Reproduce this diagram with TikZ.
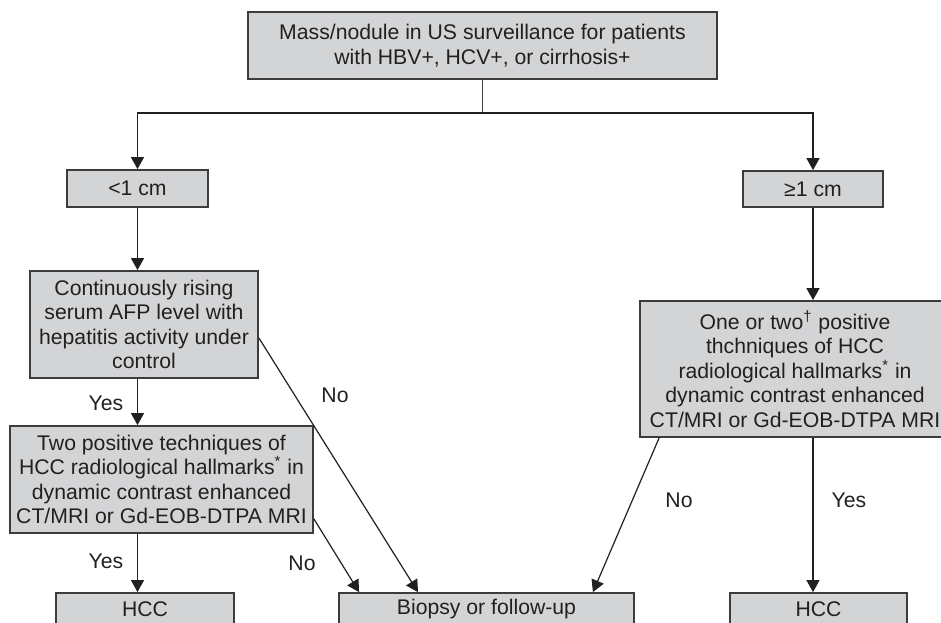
\documentclass[tikz,border=0pt]{standalone}
\usepackage{fontspec}
\setmainfont{Liberation Sans}
\usetikzlibrary{arrows.meta}

\definecolor{boxgray}{RGB}{211,212,214}
\definecolor{edgegray}{RGB}{60,60,60}
\definecolor{inkgray}{RGB}{35,31,32}

\tikzset{
    box/.style={draw=edgegray, line width=0.9pt, fill=boxgray, align=center,
        inner sep=0pt, text=inkgray, font=\fontsize{10.6}{12.2}\selectfont},
    arr/.style={-{Triangle[width=6.5pt,length=6pt]}, line width=0.6pt, draw=inkgray},
    link/.style={line width=0.7pt, draw=edgegray},
    lab/.style={text=inkgray, font=\fontsize{10.6}{12.2}\selectfont}
}

\begin{document}
\begin{tikzpicture}[x=0.5pt, y=-0.5pt]
    \useasboundingbox (0,0) rectangle (941,622);

    % Draw the boxes
    \node[box, minimum width=234.5pt, minimum height=33.5pt] (mass) at (482.5,45.5)
        {Mass/nodule in US surveillance for patients\\with HBV+, HCV+, or cirrhosis+};
    \node[box, minimum width=70.5pt, minimum height=18.5pt] (small) at (137.5,188.5) {<1 cm};
    \node[box, minimum width=70pt, minimum height=18pt] (large) at (813,189) {≥1 cm};
    \node[box, minimum width=114pt, minimum height=53.5pt] (afp) at (144,324.5)
        {Continuously rising\\serum AFP level with\\hepatitis activity under\\control};
    \node[box, minimum width=151.5pt, minimum height=53.5pt] (twopos) at (161.5,479.5)
        {Two positive techniques of\\HCC radiological hallmarks\textsuperscript{*} in\\dynamic contrast enhanced\\CT/MRI or Gd-EOB-DTPA MRI};
    \node[box, minimum width=155pt, minimum height=68pt] (onetwo) at (795,369)
        {One or two\textsuperscript{\textdagger} positive\\thchniques of HCC\\radiological hallmarks\textsuperscript{*} in\\dynamic contrast enhanced\\CT/MRI or Gd-EOB-DTPA MRI};
    \node[box, minimum width=89pt, minimum height=16pt] (hccL) at (145,609) {HCC};
    \node[box, minimum width=147.5pt, minimum height=16pt] (biopsy) at (486.5,609) {Biopsy or follow-up};
    \node[box, minimum width=88.5pt, minimum height=16pt] (hccR) at (818.5,609) {HCC};

    % Split below the first box
    \draw[link] (mass.south) -- ++(0,33) coordinate (split);
    \draw[arr] (split) -| (small.north);
    \draw[arr] (split) -| (large.north);

    % Left branch
    \draw[arr] (small.south) -- (afp.north -| small.south);
    \draw[arr] (afp.south -| small.south) -- (twopos.north -| small.south);
    \draw[arr] (twopos.south -| small.south) -- (hccL.north -| small.south);
    \draw[arr] ([yshift=-6.75pt]afp.east) -- ([xshift=-34.25pt]biopsy.north);
    \draw[arr] ([yshift=7.5pt]twopos.south east) -- ([xshift=10.5pt]biopsy.north west);

    % Right branch
    \draw[arr] (large.south) -- (onetwo.north -| large.south);
    \draw[arr] (onetwo.south -| large.south) -- (hccR.north -| large.south);
    \draw[arr] ([xshift=10pt]onetwo.south west) -- ([xshift=-21pt]biopsy.north east);

    % Yes / No labels
    \node[lab] (yes1) at (106,403) {Yes};
    \node[lab] (yes2) at (106,561) {Yes};
    \node[lab] (no1) at (335,395) {No};
    \node[lab] (no2) at (302,563) {No};
    \node[lab] (no3) at (679,500) {No};
    \node[lab] (yes3) at (849,500) {Yes};
\end{tikzpicture}
\end{document}
